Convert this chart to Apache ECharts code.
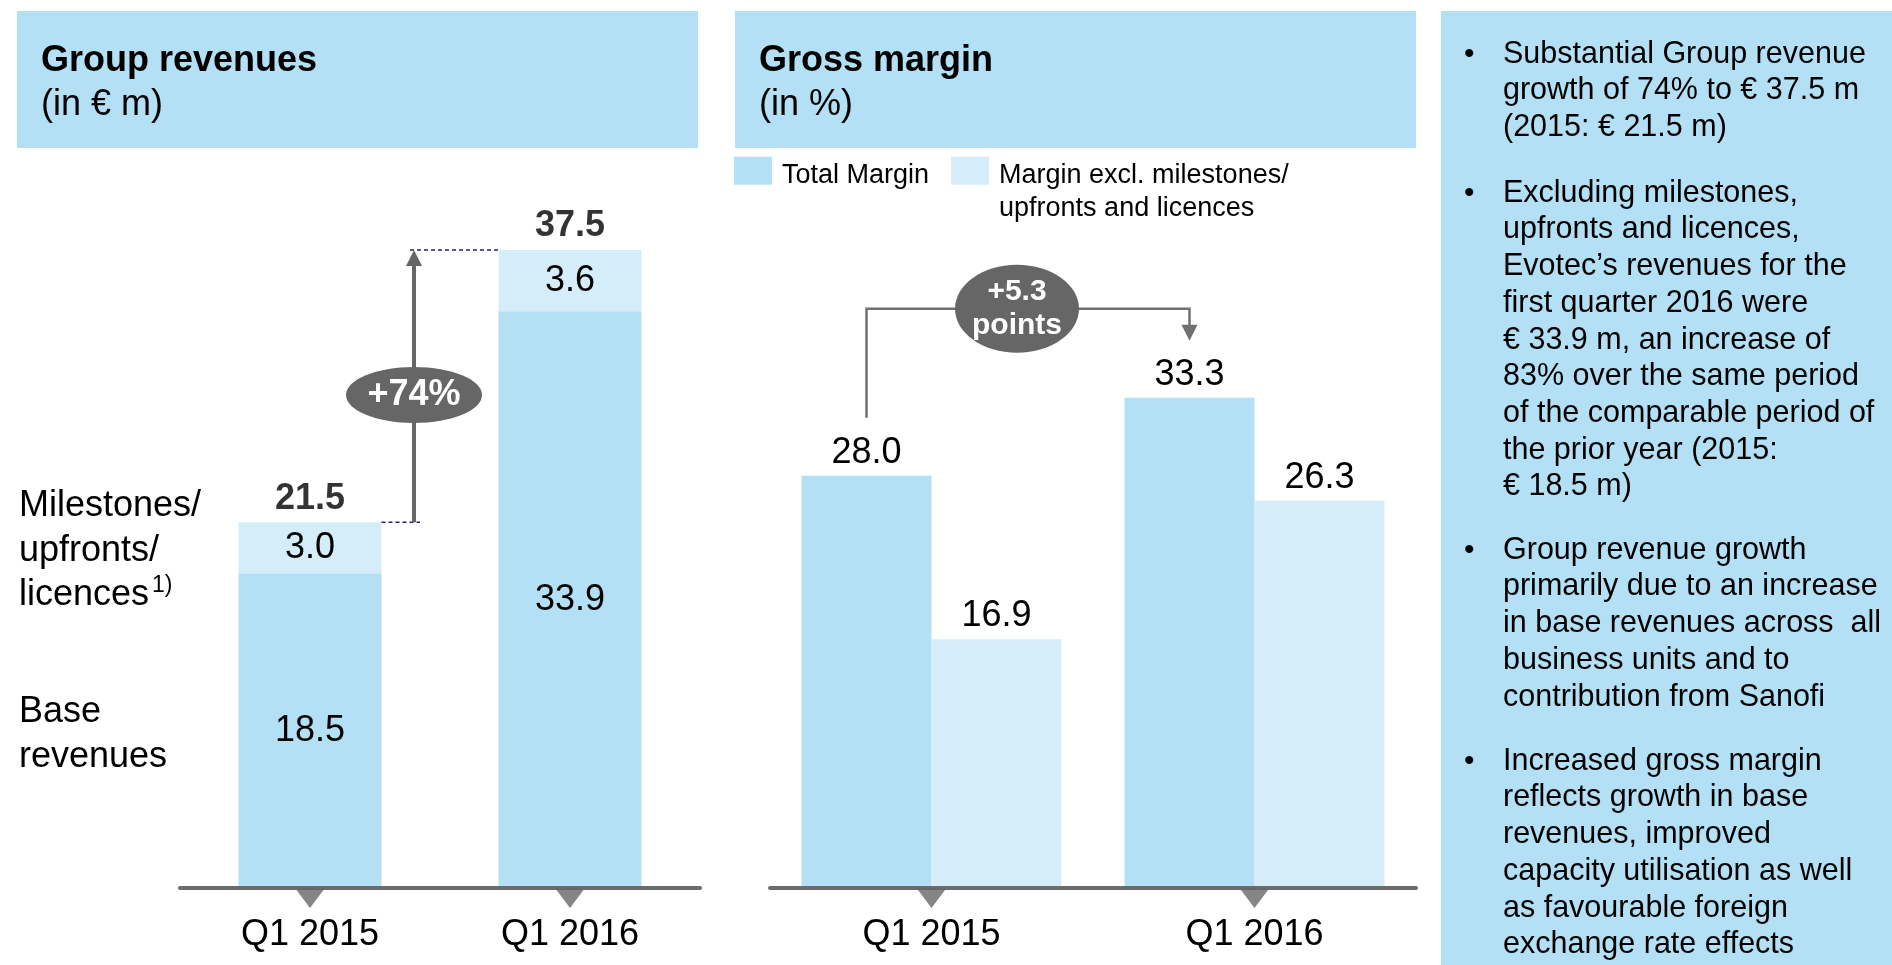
<!DOCTYPE html>
<html>
<head>
<meta charset="utf-8">
<script src="https://cdn.jsdelivr.net/npm/echarts@6/dist/echarts.min.js"></script>
<style>
html,body{margin:0;padding:0;background:#fff;}
#main{width:1892px;height:965px;}
</style>
</head>
<body>
<div id="main"></div>
<script>
// data
var revCategories = ['Q1 2015', 'Q1 2016'];
var baseRevenues = [18.5, 33.9];
var milestoneRevenues = [3.0, 3.6];
var totalRevenues = [21.5, 37.5];
var marginCategories = ['Q1 2015', 'Q1 2016'];
var totalMargin = [28.0, 33.3];
var marginExcl = [16.9, 26.3];
var tickMarks = [0, 0];
var revenueGrowth = '+74%';
var marginGrowth = '+5.3\npoints';
var notes = [
	['Substantial Group revenue', 'growth of 74% to € 37.5 m', '(2015: € 21.5 m)'],
	['Excluding milestones,', 'upfronts and licences,', 'Evotec\u2019s revenues for the', 'first quarter 2016 were',
	 '€ 33.9 m, an increase of', '83% over the same period', 'of the comparable period of', 'the prior year (2015:', '€ 18.5 m)'],
	['Group revenue growth', 'primarily due to an increase', 'in base revenues across  all', 'business units and to', 'contribution from Sanofi'],
	['Increased gross margin', 'reflects growth in base', 'revenues, improved', 'capacity utilisation as well', 'as favourable foreign', 'exchange rate effects']
];

var FONT = "'Liberation Sans', Arial, Helvetica, sans-serif";
var BLUE = '#b3e0f4';
var LIGHT = '#d5ecf9';
var GREY = '#666666';
var EXCL_NAME = 'Margin excl. milestones/ upfronts and licences';

function fmt(p) {
	var v = Array.isArray(p.value) ? p.value[1] : p.value;
	return v.toFixed(1);
}

var myChart = echarts.init(document.getElementById('main'));

function xAxisOpt(idx, cats) {
	return {
		gridIndex: idx,
		type: 'category',
		data: cats,
		z: 5,
		axisLine: {lineStyle: {color: '#6b6b6b', width: 4}},
		axisTick: {show: false},
		axisLabel: {fontSize: 36, color: '#000', margin: 29}
	};
}

function tickSeries(idx) {
	return {
		type: 'scatter',
		xAxisIndex: idx,
		yAxisIndex: idx,
		data: tickMarks,
		symbol: 'triangle',
		symbolRotate: 180,
		symbolSize: [30, 20],
		symbolOffset: [0, 10],
		itemStyle: {color: GREY},
		clip: false,
		silent: true,
		z: 6
	};
}

var option = {
	animation: false,
	textStyle: {fontFamily: FONT},
	title: [{
		text: 'Group revenues',
		subtext: '(in € m)',
		left: 41,
		top: 43,
		padding: 0,
		itemGap: 8,
		textStyle: {fontSize: 36, fontWeight: 'bold', color: '#000'},
		subtextStyle: {fontSize: 36, color: '#000'}
	}, {
		text: 'Gross margin',
		subtext: '(in %)',
		left: 759,
		top: 43,
		padding: 0,
		itemGap: 8,
		textStyle: {fontSize: 36, fontWeight: 'bold', color: '#000'},
		subtextStyle: {fontSize: 36, color: '#000'}
	}],
	legend: {
		left: 734,
		top: 127,
		padding: 0,
		// swatch sits in the top of a taller item so the text lands a little lower
		icon: 'path://M0,0H38V28H0Z M0,37.99H0.01V38H0Z',
		itemWidth: 38,
		itemHeight: 38,
		itemGap: 22,
		selectedMode: false,
		data: ['Total Margin', EXCL_NAME],
		// blank first line keeps the first text line level with the swatch
		formatter: function (name) {
			return name === EXCL_NAME ? '\n' + name.replace('/ ', '/\n') : name;
		},
		textStyle: {fontSize: 27, color: '#000', lineHeight: 32.5, padding: [0, 0, 0, 5]}
	},
	grid: [
		{left: 180, width: 520, top: 207.5, bottom: 77},
		{left: 770, width: 646, top: 299, bottom: 77}
	],
	xAxis: [xAxisOpt(0, revCategories), xAxisOpt(1, marginCategories)],
	yAxis: [
		{gridIndex: 0, type: 'value', min: 0, max: 40, show: false},
		{gridIndex: 1, type: 'value', min: 0, max: 40, show: false}
	],
	series: [{
		name: 'Base revenues',
		type: 'bar',
		stack: 'rev',
		xAxisIndex: 0,
		yAxisIndex: 0,
		barWidth: 143,
		data: baseRevenues,
		itemStyle: {color: BLUE},
		label: {show: true, position: 'inside', fontSize: 36, color: '#000', formatter: fmt}
	}, {
		name: 'Milestones/upfronts/licences',
		type: 'bar',
		stack: 'rev',
		xAxisIndex: 0,
		yAxisIndex: 0,
		barWidth: 143,
		data: milestoneRevenues,
		itemStyle: {color: LIGHT},
		label: {show: true, position: 'inside', fontSize: 36, color: '#000', formatter: fmt}
	}, {
		name: 'Group revenues',
		type: 'scatter',
		xAxisIndex: 0,
		yAxisIndex: 0,
		data: totalRevenues,
		symbolSize: 1,
		itemStyle: {color: 'transparent'},
		label: {show: true, position: 'top', distance: 5, fontSize: 36, fontWeight: 'bold', color: '#000', formatter: fmt}
	},
	tickSeries(0),
	{
		name: 'Total Margin',
		type: 'bar',
		xAxisIndex: 1,
		yAxisIndex: 1,
		barWidth: 130,
		barGap: '0%',
		data: totalMargin,
		itemStyle: {color: BLUE},
		label: {show: true, position: 'top', distance: 5, fontSize: 36, color: '#000', formatter: fmt}
	}, {
		name: EXCL_NAME,
		type: 'bar',
		xAxisIndex: 1,
		yAxisIndex: 1,
		barWidth: 130,
		barGap: '0%',
		data: marginExcl,
		itemStyle: {color: LIGHT},
		label: {show: true, position: 'top', distance: 5, fontSize: 36, color: '#000', formatter: fmt}
	},
	tickSeries(1)
	]
};
myChart.setOption(option);

// annotations placed from the axes
var r0 = myChart.convertToPixel({xAxisIndex: 0, yAxisIndex: 0}, [0, totalRevenues[0]]);
var r1 = myChart.convertToPixel({xAxisIndex: 0, yAxisIndex: 0}, [1, totalRevenues[1]]);
var m0 = myChart.convertToPixel({xAxisIndex: 1, yAxisIndex: 1}, [0, totalMargin[0]]);
var m1 = myChart.convertToPixel({xAxisIndex: 1, yAxisIndex: 1}, [1, totalMargin[1]]);

var arrowX = r0[0] + (r1[0] - r0[0]) * 0.4;
var bl = m0[0] - 65, br = m1[0] - 65;
var brTop = m1[1] - 89;

var graphics = [
	{type: 'rect', shape: {x: 17, y: 11, width: 681, height: 137}, style: {fill: BLUE}, silent: true},
	{type: 'rect', shape: {x: 735, y: 11, width: 681, height: 137}, style: {fill: BLUE}, silent: true},
	{type: 'rect', shape: {x: 1441, y: 11, width: 451, height: 954}, style: {fill: BLUE}, silent: true},
	// row labels
	{type: 'text', x: 19, y: 484, style: {text: 'Milestones/\nupfronts/\nlicences', font: '36px ' + FONT, fill: '#000', lineHeight: 44.5}},
	{type: 'text', x: 152, y: 574, style: {text: '1)', font: '23px ' + FONT, fill: '#000'}},
	{type: 'text', x: 19, y: 690, style: {text: 'Base\nrevenues', font: '36px ' + FONT, fill: '#000', lineHeight: 45}},
	// +74% arrow
	{type: 'line', z: 10, shape: {x1: r0[0] + 71.5, y1: r0[1], x2: arrowX + 6, y2: r0[1]}, style: {stroke: '#23236b', lineWidth: 1.5, lineDash: [4, 3]}},
	{type: 'line', z: 10, shape: {x1: arrowX - 4, y1: r1[1], x2: r1[0] - 71.5, y2: r1[1]}, style: {stroke: '#23236b', lineWidth: 1.5, lineDash: [4, 3]}},
	{type: 'line', z: 10, shape: {x1: arrowX, y1: r0[1], x2: arrowX, y2: r1[1] + 14}, style: {stroke: GREY, lineWidth: 4}},
	{type: 'polygon', z: 10, shape: {points: [[arrowX - 8, r1[1] + 16], [arrowX + 8, r1[1] + 16], [arrowX, r1[1]]]}, style: {fill: GREY}},
	{type: 'ellipse', z: 11, shape: {cx: arrowX, cy: 395, rx: 68, ry: 28}, style: {fill: GREY}},
	{type: 'text', z: 12, x: arrowX, y: 395, style: {text: revenueGrowth, font: 'bold 36px ' + FONT, fill: '#fff', align: 'center', verticalAlign: 'middle'}},
	// +5.3 points bracket
	{type: 'polyline', z: 10, shape: {points: [[bl, m0[1] - 58], [bl, brTop], [br, brTop], [br, m1[1] - 70]]}, style: {stroke: '#707070', lineWidth: 2.5, fill: null}},
	{type: 'polygon', z: 10, shape: {points: [[br - 8, m1[1] - 73], [br + 8, m1[1] - 73], [br, m1[1] - 57]]}, style: {fill: '#707070'}},
	{type: 'ellipse', z: 11, shape: {cx: (bl + br) / 2 - 11, cy: brTop, rx: 62, ry: 44}, style: {fill: GREY}},
	{type: 'text', z: 12, x: (bl + br) / 2 - 11, y: brTop, style: {text: marginGrowth, font: 'bold 30px ' + FONT, fill: '#fff', align: 'center', verticalAlign: 'middle', lineHeight: 34}}
];

// side notes
var noteTops = [36, 175, 532, 743];
notes.forEach(function (lines, i) {
	graphics.push({type: 'text', x: 1464, y: noteTops[i], style: {text: '\u2022', font: '30px ' + FONT, fill: '#000', lineHeight: 36.7}});
	graphics.push({type: 'text', x: 1503, y: noteTops[i], style: {text: lines.join('\n'), font: '30.5px ' + FONT, fill: '#000', lineHeight: 36.7}});
});

myChart.setOption({graphic: graphics});
</script>
</body>
</html>
